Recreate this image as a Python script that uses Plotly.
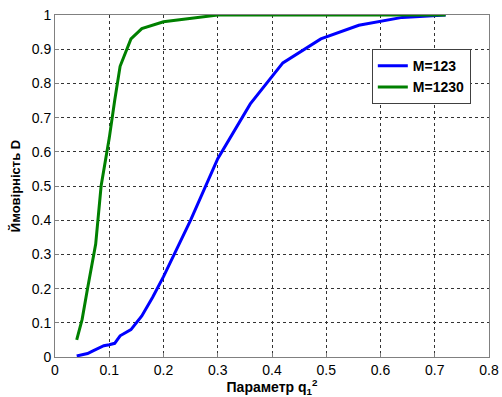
import plotly.graph_objects as go

x_m123 = [0.04, 0.05, 0.06, 0.07, 0.08, 0.09, 0.10, 0.11, 0.12, 0.14, 0.16, 0.18, 0.20, 0.25, 0.30, 0.36, 0.42, 0.49, 0.56, 0.64, 0.72]
y_m123 = [0.003, 0.007, 0.010, 0.018, 0.026, 0.033, 0.036, 0.040, 0.062, 0.080, 0.120, 0.175, 0.235, 0.400, 0.580, 0.740, 0.860, 0.930, 0.970, 0.993, 1.000]

x_m1230 = [0.04, 0.05, 0.06, 0.075, 0.085, 0.10, 0.11, 0.12, 0.14, 0.16, 0.20, 0.25, 0.30, 0.40, 0.50, 0.60, 0.72]
y_m1230 = [0.05, 0.11, 0.20, 0.33, 0.50, 0.64, 0.75, 0.85, 0.93, 0.96, 0.98, 0.99, 1.00, 1.00, 1.00, 1.00, 1.00]

x_ticks = [0, 0.1, 0.2, 0.3, 0.4, 0.5, 0.6, 0.7, 0.8]
x_labels = ["0", "0.1", "0.2", "0.3", "0.4", "0.5", "0.6", "0.7", "0.8"]
y_ticks = [0, 0.1, 0.2, 0.3, 0.4, 0.5, 0.6, 0.7, 0.8, 0.9, 1]
y_labels = ["0", "0.1", "0.2", "0.3", "0.4", "0.5", "0.6", "0.7", "0.8", "0.9", "1"]

fig = go.Figure()
fig.add_trace(go.Scatter(x=x_m123, y=y_m123, mode="lines", name="<b>M=123</b>",
                         line=dict(color="#0000ff", width=3)))
fig.add_trace(go.Scatter(x=x_m1230, y=y_m1230, mode="lines", name="<b>M=1230</b>",
                         line=dict(color="#008000", width=3)))

font = "Liberation Sans, Arial, sans-serif"
axis_common = dict(showline=True, linecolor="#808080", linewidth=1, mirror=True,
                   showgrid=True, gridcolor="#333333", griddash="dot", gridwidth=1,
                   ticks="inside", ticklen=4, tickcolor="#808080",
                   zeroline=False, automargin=False,
                   tickfont=dict(family=font, size=14, color="#000"))

fig.update_xaxes(range=[0, 0.8], tickvals=x_ticks, ticktext=x_labels,
                 title=dict(text="<b>Параметр q<sub>1</sub><sup>2</sup></b>",
                            font=dict(family=font, size=14, color="#000"), standoff=2),
                 **axis_common)
fig.update_yaxes(range=[0, 1], tickvals=y_ticks, ticktext=y_labels,
                 title=dict(text="<b>Ймовірність D</b>",
                            font=dict(family=font, size=13, color="#000"), standoff=8),
                 **axis_common)

fig.update_layout(
    width=502, height=397,
    margin=dict(l=55, r=13, t=15, b=40),
    paper_bgcolor="white", plot_bgcolor="white",
    showlegend=True,
    legend=dict(x=0.73, y=0.9, xanchor="left", yanchor="top",
                bgcolor="white", bordercolor="#404040", borderwidth=1,
                font=dict(family=font, size=14, color="#000"),
                tracegroupgap=0, itemwidth=30),
)

fig.write_html("out.html")
